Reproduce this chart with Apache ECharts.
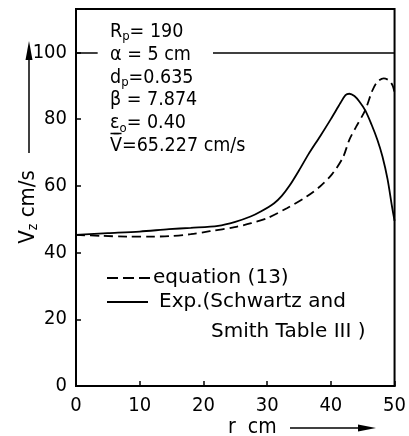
<!DOCTYPE html>
<html>
<head>
<meta charset="utf-8">
<script src="https://cdn.jsdelivr.net/npm/echarts@6/dist/echarts.min.js"></script>
<style>
  html, body { margin: 0; padding: 0; background: #fff; }
  #chart { width: 409px; height: 436px; }
</style>
</head>
<body>
<div id="chart"></div>
<script>
  // curve readings (r in cm, Vz in cm/s)
  var expPoints = [
    [0, 45.3], [5, 45.8], [10, 46.3], [14.6, 47.0], [18, 47.4], [22.3, 48.0],
    [25, 49.2], [27.4, 50.8], [29, 52.3], [31.1, 54.8], [32.3, 57], [33.5, 60.0],
    [35, 64.6], [36.5, 69.5], [38.3, 74.8], [40, 80], [41.5, 84.8], [42.3, 87.2],
    [42.9, 87.6], [43.7, 86.9], [44.5, 85.2], [45.4, 82.6], [46.4, 78.3], [47.3, 73.8],
    [48.1, 68.8], [48.9, 62], [49.6, 53.8], [50, 49.5]
  ];
  var eqPoints = [
    [0, 45.3], [4, 45.0], [8, 44.8], [12, 44.8], [14.6, 44.9], [18, 45.5],
    [21, 46.4], [24.9, 47.6], [27.5, 48.8], [30, 50.3], [33.1, 53.3], [36.2, 56.8],
    [38.3, 59.8], [40.2, 63.5], [41.9, 68.5], [42.9, 73.8], [44, 77.8], [45.4, 82.7],
    [46.5, 88.5], [47.3, 91.2], [48.3, 92.2], [49.2, 91.5], [49.7, 90], [50, 88]
  ];
  // horizontal line at Vz = 100, broken where the parameter text sits
  var refValue = 100;
  var refSegments = [[0, 3.4], [21.5, 50]];

  var xTicks = { min: 0, max: 50, step: 10 };
  var yTicks = { min: 0, max: 113, step: 20 };

  var narrow = '"Liberation Sans Narrow", "DejaVu Sans Condensed", sans-serif';
  var condensed = '"DejaVu Sans Condensed", "DejaVu Sans", sans-serif';
  var plain = '"DejaVu Sans", sans-serif';

  var main = { fontSize: 19.5, fontFamily: condensed, color: '#000', lineHeight: 22.6 };
  var sub = { fontSize: 13, fontFamily: condensed, color: '#000', padding: [10, 0, 0, 0] };
  var title = { fontSize: 22, fontFamily: condensed, color: '#000' };
  var titleSub = { fontSize: 14, fontFamily: condensed, color: '#000', padding: [11, 0, 0, 0] };

  var chart = echarts.init(document.getElementById('chart'), null, { renderer: 'canvas' });

  var option = {
    backgroundColor: '#fff',
    animation: false,
    grid: {
      left: 76, right: 10, top: 9, bottom: 50,
      show: true, borderColor: '#000', borderWidth: 2
    },
    xAxis: {
      type: 'value',
      min: xTicks.min, max: xTicks.max, interval: xTicks.step,
      axisLine: { show: true, lineStyle: { color: '#000', width: 2 } },
      axisTick: { inside: true, length: 5, lineStyle: { color: '#000', width: 1.5 } },
      axisLabel: { color: '#000', fontSize: 20, fontFamily: narrow, margin: 10 },
      splitLine: { show: false }
    },
    yAxis: {
      type: 'value',
      min: yTicks.min, max: yTicks.max, interval: yTicks.step,
      axisLine: { show: true, lineStyle: { color: '#000', width: 2 } },
      axisTick: { inside: true, length: 5, lineStyle: { color: '#000', width: 1.5 } },
      axisLabel: { color: '#000', fontSize: 20, fontFamily: narrow, margin: 9, showMaxLabel: false },
      splitLine: { show: false }
    },
    series: [
      {
        name: 'equation (13)',
        type: 'line',
        data: eqPoints,
        symbol: 'none',
        smooth: 0.3,
        lineStyle: { color: '#000', width: 1.8, type: [9, 5] },
        markLine: {
          silent: true,
          symbol: 'none',
          label: { show: false },
          lineStyle: { color: '#000', width: 1.5, type: 'solid' },
          data: refSegments.map(function (s) {
            return [{ coord: [s[0], refValue] }, { coord: [s[1], refValue] }];
          })
        }
      },
      {
        name: 'Exp.(Schwartz and Smith Table III)',
        type: 'line',
        data: expPoints,
        symbol: 'none',
        smooth: 0.3,
        lineStyle: { color: '#000', width: 1.8 }
      }
    ],
    graphic: [
      // parameter block
      {
        type: 'text', left: 110, top: 22,
        style: {
          text: '{m|R}{s|p}{m|= 190}\n{m|α = 5 cm}\n{m|d}{s|p}{m|=0.635}\n{m|β = 7.874}\n{m|ε}{s|o}{m|= 0.40}\n{m|V\u0304=65.227 cm/s}',
          rich: { m: main, s: sub }
        }
      },
      // bar over the V (mean velocity)
      {
        type: 'line', shape: { x1: 110.5, y1: 133.5, x2: 121.5, y2: 133.5 },
        style: { stroke: '#000', lineWidth: 1.5 }
      },
      // legend
      {
        type: 'line', shape: { x1: 107, y1: 278, x2: 151, y2: 278 },
        style: { stroke: '#000', lineWidth: 1.8, lineDash: [11, 5] }
      },
      {
        type: 'text', x: 153, y: 278,
        style: { text: 'equation (13)', font: '20px ' + plain, fill: '#000', verticalAlign: 'middle' }
      },
      {
        type: 'line', shape: { x1: 107, y1: 302, x2: 148, y2: 302 },
        style: { stroke: '#000', lineWidth: 1.8 }
      },
      {
        type: 'text', x: 159, y: 302,
        style: { text: 'Exp.(Schwartz and', font: '20px ' + plain, fill: '#000', verticalAlign: 'middle' }
      },
      {
        type: 'text', x: 211, y: 332,
        style: { text: 'Smith Table III )', font: '20px ' + plain, fill: '#000', verticalAlign: 'middle' }
      },
      // y axis title with arrow
      {
        type: 'text', x: 28, y: 207, rotation: Math.PI / 2,
        style: {
          text: '{m|V}{s|z}{m| cm/s}',
          rich: { m: title, s: titleSub },
          align: 'center', verticalAlign: 'middle'
        }
      },
      {
        type: 'line', shape: { x1: 29, y1: 153, x2: 29, y2: 55 },
        style: { stroke: '#000', lineWidth: 1.5 }
      },
      {
        type: 'polygon', shape: { points: [[29, 41], [25.5, 60], [32.5, 60]] },
        style: { fill: '#000' }
      },
      // x axis title with arrow
      {
        type: 'text', x: 228, y: 428,
        style: { text: 'r  cm', font: '21px ' + condensed, fill: '#000', verticalAlign: 'middle' }
      },
      {
        type: 'line', shape: { x1: 290, y1: 428, x2: 364, y2: 428 },
        style: { stroke: '#000', lineWidth: 1.5 }
      },
      {
        type: 'polygon', shape: { points: [[376, 428], [358, 424.5], [358, 431.5]] },
        style: { fill: '#000' }
      }
    ]
  };

  chart.setOption(option);
</script>
</body>
</html>
